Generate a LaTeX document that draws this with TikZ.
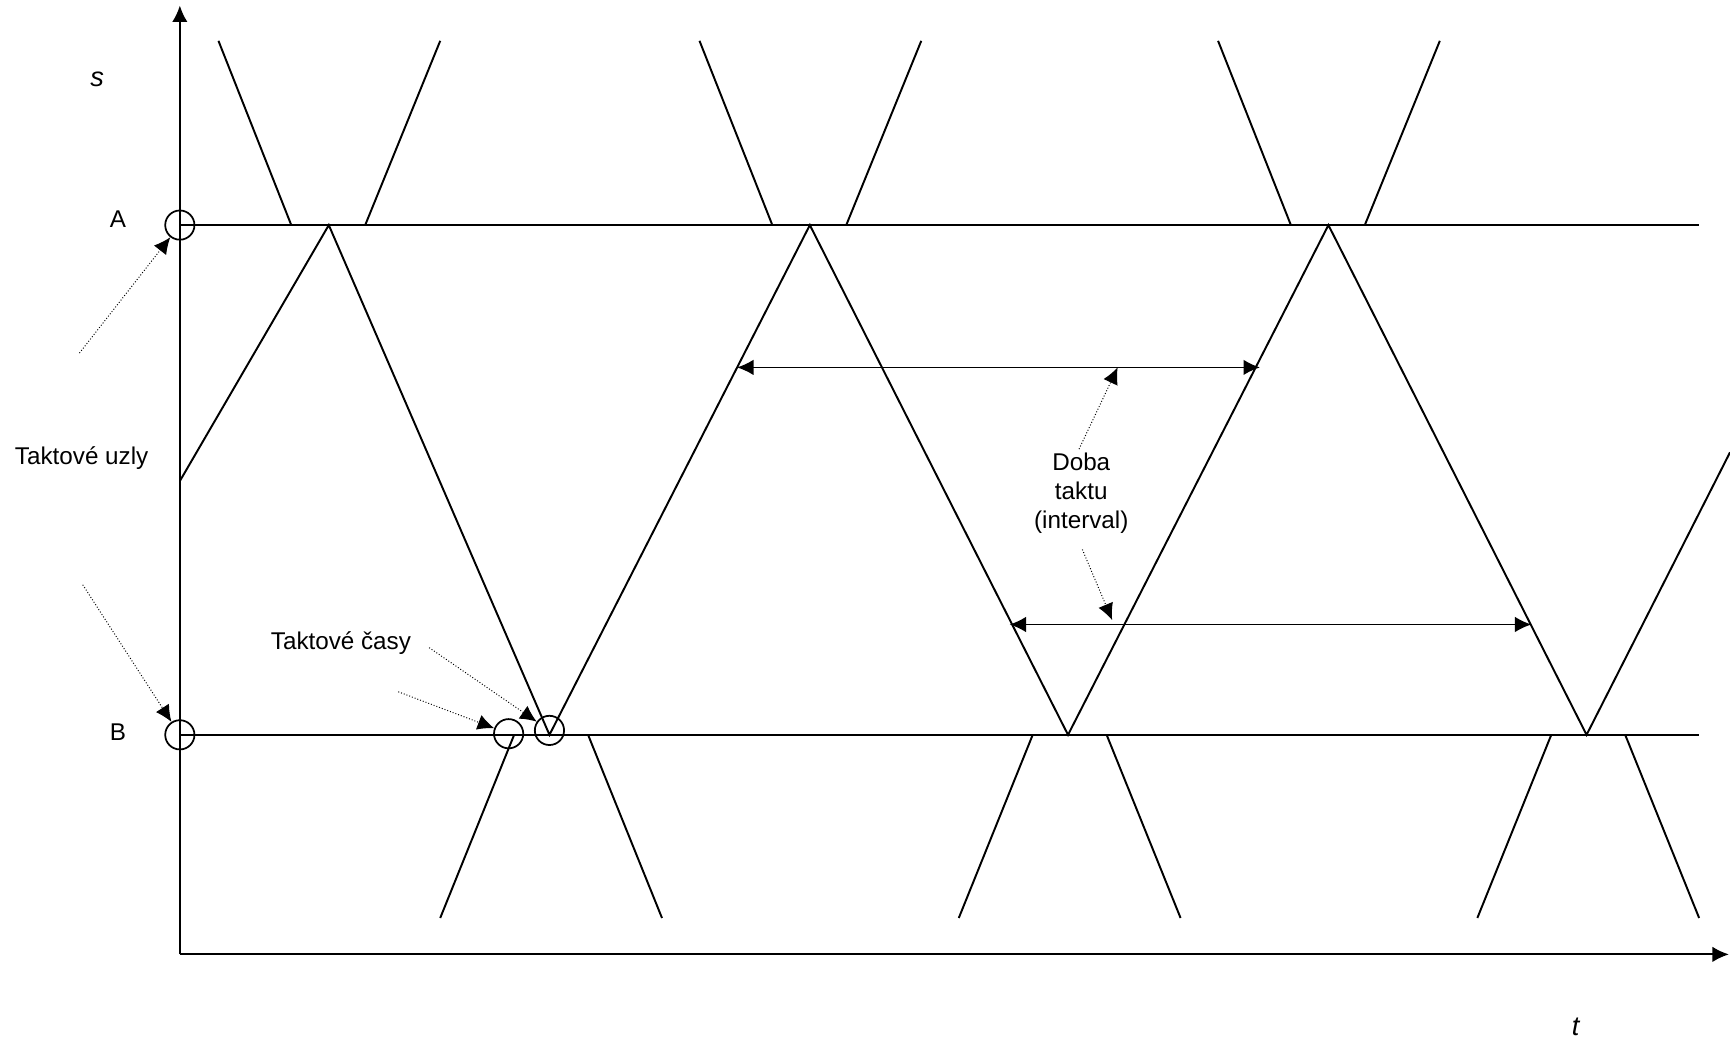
\documentclass[tikz,border=0pt]{standalone}
\usepackage{fontspec}
\setmainfont{Liberation Sans}
\usetikzlibrary{arrows.meta, positioning}

\begin{document}
\begin{tikzpicture}[x=0.02cm, y=-0.02cm, line width=1pt,
    >={Latex[length=8.5pt,width=8pt]},
    every node/.style={font=\fontsize{12.5}{14.8}\selectfont},
    uzel/.style={draw, circle, minimum size=0.53cm, inner sep=0pt, line width=0.9pt},
    pointer/.style={->, densely dotted, line width=0.5pt},
    interval/.style={<->, line width=0.8pt},
    osa/.style={font=\fontsize{14}{16}\selectfont\itshape}]
        \useasboundingbox (0,0) rectangle (1568,944);

        % Axes
        \coordinate (O) at (163,865);
        \coordinate (stop) at (163,5);
        \coordinate (tend) at (1567,865);
        \draw[->] (O) -- (stop);
        \draw[->] (O) -- (tend);
        \node[osa] (s) at (88,72) {s};
        \node[osa] (t) at (1428,931) {t};

        % Stations
        \coordinate (Aend) at (1540,204);
        \coordinate (Bend) at (1540,666);
        \node[uzel] (cA) at (163,204) {};
        \node[uzel] (cB) at (163,666) {};
        \draw (cA.center) -- (Aend);
        \draw (cB.center) -- (Bend);
        \node (lA) at (107,199) {A};
        \node (lB) at (107,664) {B};

        % Train paths
        \draw (163,436) -- (298,204) -- (498,666) -- (734,204) -- (968,666)
              -- (1204,204) -- (1438,666) -- (1568,410);
        \foreach \p in {298,734,1204} {
          \draw ({\p-100},37) -- ({\p-34},204);
          \draw ({\p+101},37) -- ({\p+33},204);
        }
        \foreach \v in {498,968,1438} {
          \draw ({\v-99},832) -- ({\v-32},666);
          \draw ({\v+102},832) -- ({\v+35},666);
        }

        % Clock-face times at B
        \node[uzel] (c1) at (461,665) {};
        \node[uzel] (c2) at (498,662) {};

        % Labels with pointers
        \node (uzly) at (74,415) {Taktové uzly};
        \coordinate (pA) at (72,320);
        \coordinate (pB) at (75,530);
        \draw[pointer] (pA) -- (cA);
        \draw[pointer] (pB) -- (cB);

        \node (casy) at (309,583) {Taktové časy};
        \coordinate (p1) at (361,627);
        \coordinate (p2) at (389,587);
        \draw[pointer] (p1) -- (c1);
        \draw[pointer] (p2) -- (c2);

        % Interval
        \coordinate (i1) at (668,333);
        \coordinate (i2) at (1142,333);
        \coordinate (i3) at (915,566);
        \coordinate (i4) at (1388,566);
        \draw[interval] (i1) -- (i2);
        \draw[interval] (i3) -- (i4);
        \node[align=center] (doba) at (980,447) {Doba\\taktu\\(interval)};
        \coordinate (d1) at (1013,333);
        \coordinate (d2) at (1008,562);
        \draw[pointer] (978,407) -- (d1);
        \draw[pointer] (981,498) -- (d2);
      \end{tikzpicture}
\end{document}
